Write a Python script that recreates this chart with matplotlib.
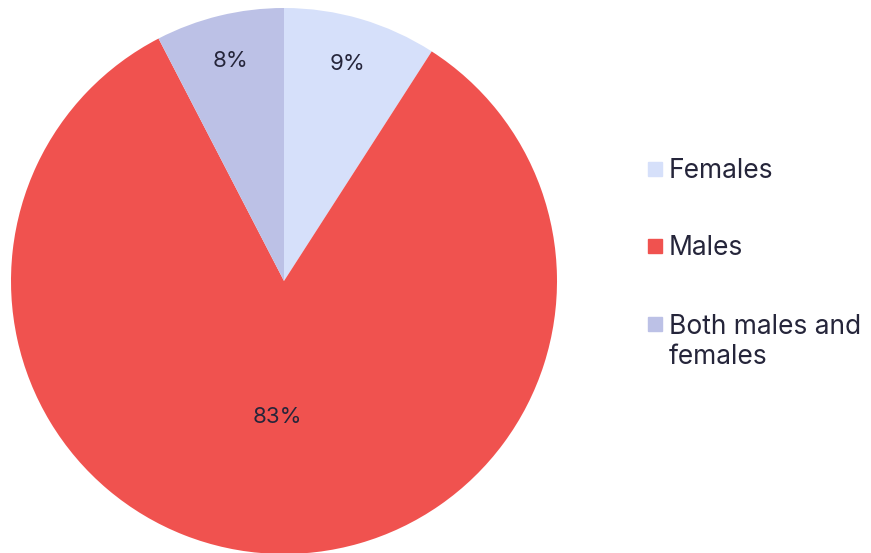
import numpy as np
import matplotlib.pyplot as plt
from matplotlib.patches import Rectangle

plt.rcParams['font.family'] = ['Inter', 'DejaVu Sans']

labels = ["Females", "Males", "Both males and\nfemales"]
shares = [9.1, 83.3, 7.6]
colors = ["#d6e0fa", "#f0524f", "#bcc1e6"]
label_dist = [0.83, 0.5, 0.83]
text_color = "#25253a"

fig = plt.figure(figsize=(8.71, 5.53), dpi=100)
ax = fig.add_axes([11 / 871, -1 / 553, 546 / 871, 546 / 553])

wedges, _, autotexts = ax.pie(shares, colors=colors, startangle=90, counterclock=False,
                              autopct='%.0f%%', radius=1,
                              wedgeprops=dict(linewidth=0),
                              textprops=dict(color=text_color, fontsize=16))
ax.set_xlim(-1, 1)
ax.set_ylim(-1, 1)

# move each percentage to its own distance from the centre
for w, t, d in zip(wedges, autotexts, label_dist):
    ang = np.deg2rad((w.theta1 + w.theta2) / 2)
    t.set_position((d * np.cos(ang), d * np.sin(ang)))

# legend drawn by hand so the square sits on the first line
# (baseline alignment uses the last line of the text)
square_y = [169, 246, 324]
base_y = [178, 255, 364]
for lab, col, sy, by in zip(labels, colors, square_y, base_y):
    fig.patches.append(Rectangle((648 / 871, (553 - sy - 7) / 553), 14 / 871, 14 / 553,
                                 transform=fig.transFigure, color=col))
    fig.text(669 / 871, (553 - by) / 553, lab, fontsize=19, color=text_color,
             va='baseline', ha='left', linespacing=1.2)

fig.savefig("out.png", dpi=100)
